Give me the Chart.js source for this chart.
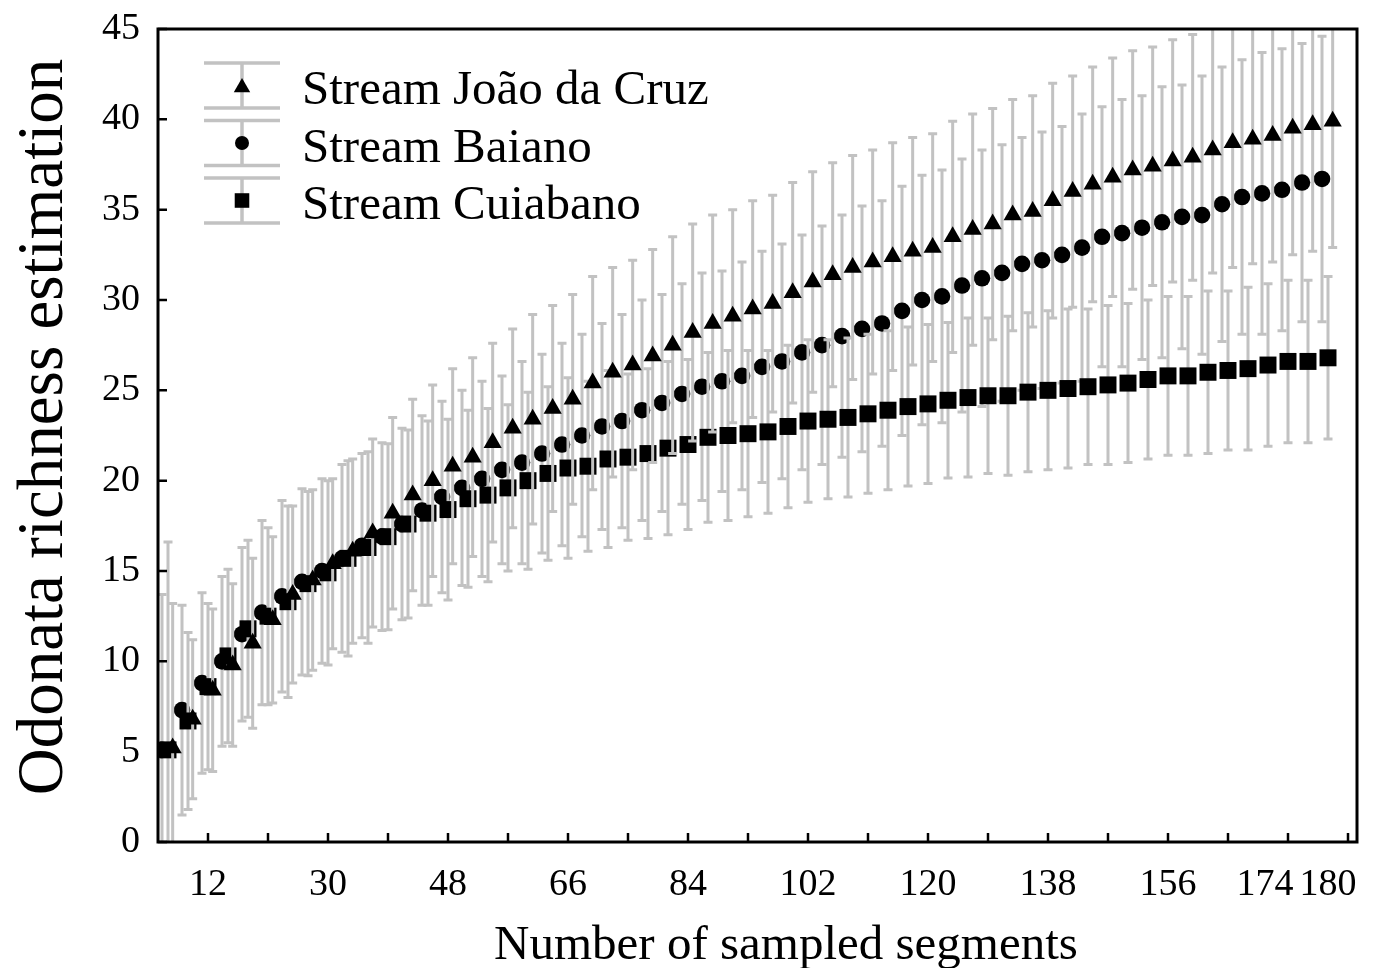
<!DOCTYPE html>
<html>
<head>
<meta charset="utf-8">
<title>Odonata richness estimation</title>
<script src="https://cdn.jsdelivr.net/npm/chart.js@4.4.1/dist/chart.umd.min.js"></script>
<style>
    html, body { margin: 0; padding: 0; background: #fff; }
    #wrap { width: 1375px; height: 968px; }
</style>
</head>
<body>
<div id="wrap"><canvas id="richnessChart"></canvas></div>
<script>
// number of sampled segments, one estimate every 3 segments
var segments = [6, 9, 12, 15, 18, 21, 24, 27, 30, 33, 36, 39, 42, 45, 48, 51, 54, 57, 60, 63,
    66, 69, 72, 75, 78, 81, 84, 87, 90, 93, 96, 99, 102, 105, 108, 111, 114, 117, 120, 123,
    126, 129, 132, 135, 138, 141, 144, 147, 150, 153, 156, 159, 162, 165, 168, 171, 174, 177, 180];

// Stream João da Cruz (triangles)
var joaoMean = [5.2, 6.8, 8.4, 9.8, 11.0, 12.3, 13.7, 14.5, 15.4, 16.1, 17.1, 18.2, 19.2, 20.0, 20.8, 21.3, 22.1, 22.9, 23.4, 24.0,
    24.5, 25.4, 26.0, 26.4, 26.9, 27.5, 28.2, 28.7, 29.1, 29.5, 29.8, 30.4, 31.0, 31.4, 31.8, 32.1, 32.4, 32.7, 32.9, 33.5,
    33.9, 34.2, 34.7, 34.9, 35.5, 36.0, 36.4, 36.8, 37.2, 37.4, 37.7, 37.9, 38.3, 38.7, 38.9, 39.1, 39.5, 39.7, 39.9];
var joaoErr = [8.0, 4.4, 4.5, 4.5, 4.7, 4.6, 4.9, 5.0, 4.7, 5.1, 5.2, 5.3, 5.3, 5.3, 5.4, 5.5, 5.5, 5.5, 5.8, 5.7,
    5.8, 5.9, 5.8, 5.8, 5.9, 6.0, 6.0, 6.0, 5.9, 6.0, 6.0, 6.1, 6.1, 6.2, 6.2, 6.2, 6.3, 6.3, 6.3, 6.4,
    6.4, 6.4, 6.4, 6.4, 6.5, 6.4, 6.5, 6.6, 6.6, 6.6, 6.7, 6.8, 6.8, 6.9, 6.9, 7.0, 7.0, 7.0, 7.0];

// Stream Baiano (circles)
var baianoMean = [5.1, 7.3, 8.8, 10.0, 11.5, 12.7, 13.6, 14.4, 15.0, 15.7, 16.4, 16.9, 17.6, 18.35, 19.1, 19.6, 20.1, 20.6, 21.0, 21.5,
    22.0, 22.5, 23.0, 23.3, 23.9, 24.3, 24.8, 25.2, 25.5, 25.8, 26.3, 26.6, 27.1, 27.5, 28.0, 28.4, 28.7, 29.4, 30.0, 30.2,
    30.8, 31.2, 31.5, 32.0, 32.2, 32.5, 32.9, 33.5, 33.7, 34.0, 34.3, 34.6, 34.7, 35.3, 35.7, 35.9, 36.1, 36.5, 36.7];
var baianoErr = [8.6, 5.8, 5.0, 4.7, 4.8, 5.1, 5.3, 5.15, 5.1, 5.2, 5.1, 5.2, 5.3, 5.25, 5.3, 5.4, 5.4, 5.2, 5.6, 5.5,
    5.6, 5.6, 5.7, 5.9, 6.1, 6.0, 6.1, 6.3, 6.1, 6.3, 6.4, 6.5, 6.5, 6.6, 6.7, 6.8, 6.8, 6.9, 6.9, 7.0,
    7.0, 7.1, 7.1, 7.0, 7.1, 7.1, 7.4, 7.2, 7.4, 7.3, 7.5, 7.3, 7.7, 7.6, 7.6, 7.8, 7.8, 7.7, 7.9];

// Stream Cuiabano (squares)
var cuiabanoMean = [5.1, 6.7, 8.6, 10.3, 11.8, 12.5, 13.3, 14.3, 14.9, 15.7, 16.3, 16.9, 17.6, 18.2, 18.4, 19.0, 19.2, 19.6, 20.0, 20.4,
    20.7, 20.8, 21.2, 21.3, 21.5, 21.8, 22.0, 22.4, 22.5, 22.6, 22.7, 23.0, 23.3, 23.4, 23.5, 23.7, 23.9, 24.1, 24.25, 24.45,
    24.6, 24.7, 24.7, 24.9, 25.0, 25.1, 25.2, 25.3, 25.4, 25.6, 25.8, 25.8, 26.0, 26.1, 26.2, 26.4, 26.6, 26.6, 26.8];
var cuiabanoErr = [11.5, 4.9, 4.6, 4.8, 4.9, 4.9, 5.3, 5.1, 5.1, 5.4, 5.3, 5.15, 5.2, 5.1, 5.0, 4.9, 4.8, 4.6, 4.9, 4.8,
    5.0, 4.7, 4.9, 4.6, 4.7, 4.8, 4.7, 4.7, 4.7, 4.6, 4.5, 4.5, 4.5, 4.4, 4.4, 4.4, 4.4, 4.4, 4.4, 4.3,
    4.4, 4.3, 4.4, 4.4, 4.4, 4.4, 4.3, 4.4, 4.4, 4.4, 4.4, 4.4, 4.5, 4.4, 4.5, 4.5, 4.5, 4.5, 4.5];

var xTickMarks = [12, 21, 30, 39, 48, 57, 66, 75, 84, 93, 102, 111, 120, 129, 138, 147, 156, 165, 174, 183];
var xTickLabels = [12, 30, 48, 66, 84, 102, 120, 138, 156, 174, 180];
var seriesNames = ["Stream João da Cruz", "Stream Baiano", "Stream Cuiabano"];

var serif = "'Liberation Serif', 'Times New Roman', Times, serif";
var barGrey = '#c2c2c2';

function toPoints(mean, dodge) {
    var pts = [];
    for (var i = 0; i < segments.length; i++) {
        pts.push({x: segments[i] + dodge, y: mean[i]});
    }
    return pts;
}

/*
 ========= error bars, drawn just before the markers of each series =============
 */
var errorBars = {
    id: 'errorBars',
    beforeDatasetDraw: function (chart, args) {
        var ds = chart.data.datasets[args.index];
        var xs = chart.scales.x, ys = chart.scales.y, area = chart.chartArea, ctx = chart.ctx;
        ctx.save();
        ctx.beginPath();
        ctx.rect(area.left, area.top, area.right - area.left, area.bottom - area.top);
        ctx.clip();
        ctx.strokeStyle = barGrey;
        ctx.lineWidth = 3;
        for (var i = 0; i < ds.data.length; i++) {
            var p = ds.data[i], e = ds.errors[i];
            var px = xs.getPixelForValue(p.x);
            var top = ys.getPixelForValue(p.y + e);
            var bot = ys.getPixelForValue(p.y - e);
            ctx.beginPath();
            ctx.moveTo(px, top); ctx.lineTo(px, bot);
            ctx.moveTo(px - 4.5, top); ctx.lineTo(px + 4.5, top);
            ctx.moveTo(px - 4.5, bot); ctx.lineTo(px + 4.5, bot);
            ctx.stroke();
        }
        ctx.restore();
    }
};

/*
 ========= frame, inside ticks, x labels, titles and legend =============
 */
var decorations = {
    id: 'decorations',
    afterDraw: function (chart) {
        var ctx = chart.ctx, area = chart.chartArea, xs = chart.scales.x, ys = chart.scales.y;
        ctx.save();

        // box
        ctx.strokeStyle = '#000';
        ctx.lineWidth = 3;
        ctx.strokeRect(area.left, area.top, area.right - area.left, area.bottom - area.top);

        // tick marks pointing inwards
        ctx.lineWidth = 2.5;
        ctx.beginPath();
        ys.ticks.forEach(function (t) {
            var py = ys.getPixelForValue(t.value);
            ctx.moveTo(area.left, py); ctx.lineTo(area.left + 9, py);
        });
        xTickMarks.forEach(function (v) {
            var px = xs.getPixelForValue(v);
            ctx.moveTo(px, area.bottom); ctx.lineTo(px, area.bottom - 9);
        });
        ctx.stroke();

        // x tick labels, pushed left when they would touch the next one
        ctx.fillStyle = '#000';
        ctx.font = '38px ' + serif;
        ctx.textAlign = 'center';
        ctx.textBaseline = 'alphabetic';
        var pos = [], wid = [];
        xTickLabels.forEach(function (v) {
            pos.push(xs.getPixelForValue(v));
            wid.push(ctx.measureText(String(v)).width);
        });
        for (var i = pos.length - 2; i >= 0; i--) {
            var maxRight = pos[i + 1] - wid[i + 1] / 2 - 6;
            if (pos[i] + wid[i] / 2 > maxRight) pos[i] = maxRight - wid[i] / 2;
        }
        xTickLabels.forEach(function (v, k) {
            ctx.fillText(String(v), pos[k], 895);
        });

        // axis titles
        ctx.font = '49px ' + serif;
        ctx.fillText('Number of sampled segments', 786, 959);

        ctx.save();
        ctx.translate(62, 427);
        ctx.rotate(-Math.PI / 2);
        ctx.font = '65px ' + serif;
        ctx.fillText('Odonata richness estimation', 0, 0);
        ctx.restore();

        // legend
        var marks = [
            {style: 'triangle', radius: 9.5},
            {style: 'circle', radius: 7},
            {style: 'rect', radius: 10.3}
        ];
        ctx.textAlign = 'left';
        ctx.font = '49px ' + serif;
        for (var k = 0; k < seriesNames.length; k++) {
            var cy = 85.5 + k * 57.5, cx = 242;
            ctx.strokeStyle = barGrey;
            ctx.lineWidth = 3.5;
            ctx.beginPath();
            ctx.moveTo(cx, cy - 22.5); ctx.lineTo(cx, cy + 22.5);
            ctx.moveTo(204, cy - 22.5); ctx.lineTo(280, cy - 22.5);
            ctx.moveTo(204, cy + 22.5); ctx.lineTo(280, cy + 22.5);
            ctx.stroke();
            ctx.fillStyle = '#000';
            Chart.helpers.drawPoint(ctx, {pointStyle: marks[k].style, radius: marks[k].radius, borderWidth: 0, rotation: 0}, cx, cy + (k === 0 ? 2 : 0));
            ctx.fillStyle = '#000';
            ctx.fillText(seriesNames[k], 302, 104 + k * 57.5);
        }
        ctx.restore();
    }
};

Chart.defaults.font.family = serif;
Chart.defaults.color = '#000';

var ctx = document.getElementById('richnessChart');

var richnessChart = new Chart(ctx, {
    type: 'scatter',
    data: {
        datasets: [
            {
                label: seriesNames[0],
                data: toPoints(joaoMean, 0.7),
                errors: joaoErr,
                pointStyle: 'triangle',
                pointRadius: 10.5,
                backgroundColor: '#000',
                borderColor: '#000',
                borderWidth: 0
            },
            {
                label: seriesNames[2],
                data: toPoints(cuiabanoMean, 0),
                errors: cuiabanoErr,
                pointStyle: 'rect',
                pointRadius: 12,
                backgroundColor: '#000',
                borderColor: '#000',
                borderWidth: 0
            },
            {
                label: seriesNames[1],
                data: toPoints(baianoMean, -0.9),
                errors: baianoErr,
                pointStyle: 'circle',
                pointRadius: 8.3,
                backgroundColor: '#000',
                borderColor: '#000',
                borderWidth: 0
            }
        ]
    },
    options: {
        responsive: true,
        maintainAspectRatio: false,
        animation: false,
        events: [],
        layout: {padding: {top: 29, right: 18, left: 0, bottom: 0}},
        plugins: {
            legend: {display: false},
            tooltip: {enabled: false}
        },
        scales: {
            x: {
                type: 'linear',
                min: 4.5,
                max: 184.35,
                grid: {display: false, drawTicks: false},
                border: {display: false},
                ticks: {display: false},
                afterFit: function (scale) {
                    scale.height = 126;
                    scale.paddingLeft = 0; scale.paddingRight = 0;
                }
            },
            y: {
                min: 0,
                max: 45,
                grid: {display: false, drawTicks: false},
                border: {display: false},
                ticks: {stepSize: 5, padding: 18, color: '#000', font: {size: 38, family: serif}},
                afterFit: function (scale) {
                    scale.width = 158;
                    scale.paddingTop = 0; scale.paddingBottom = 0;
                }
            }
        }
    },
    plugins: [errorBars, decorations]
});
</script>
</body>
</html>
